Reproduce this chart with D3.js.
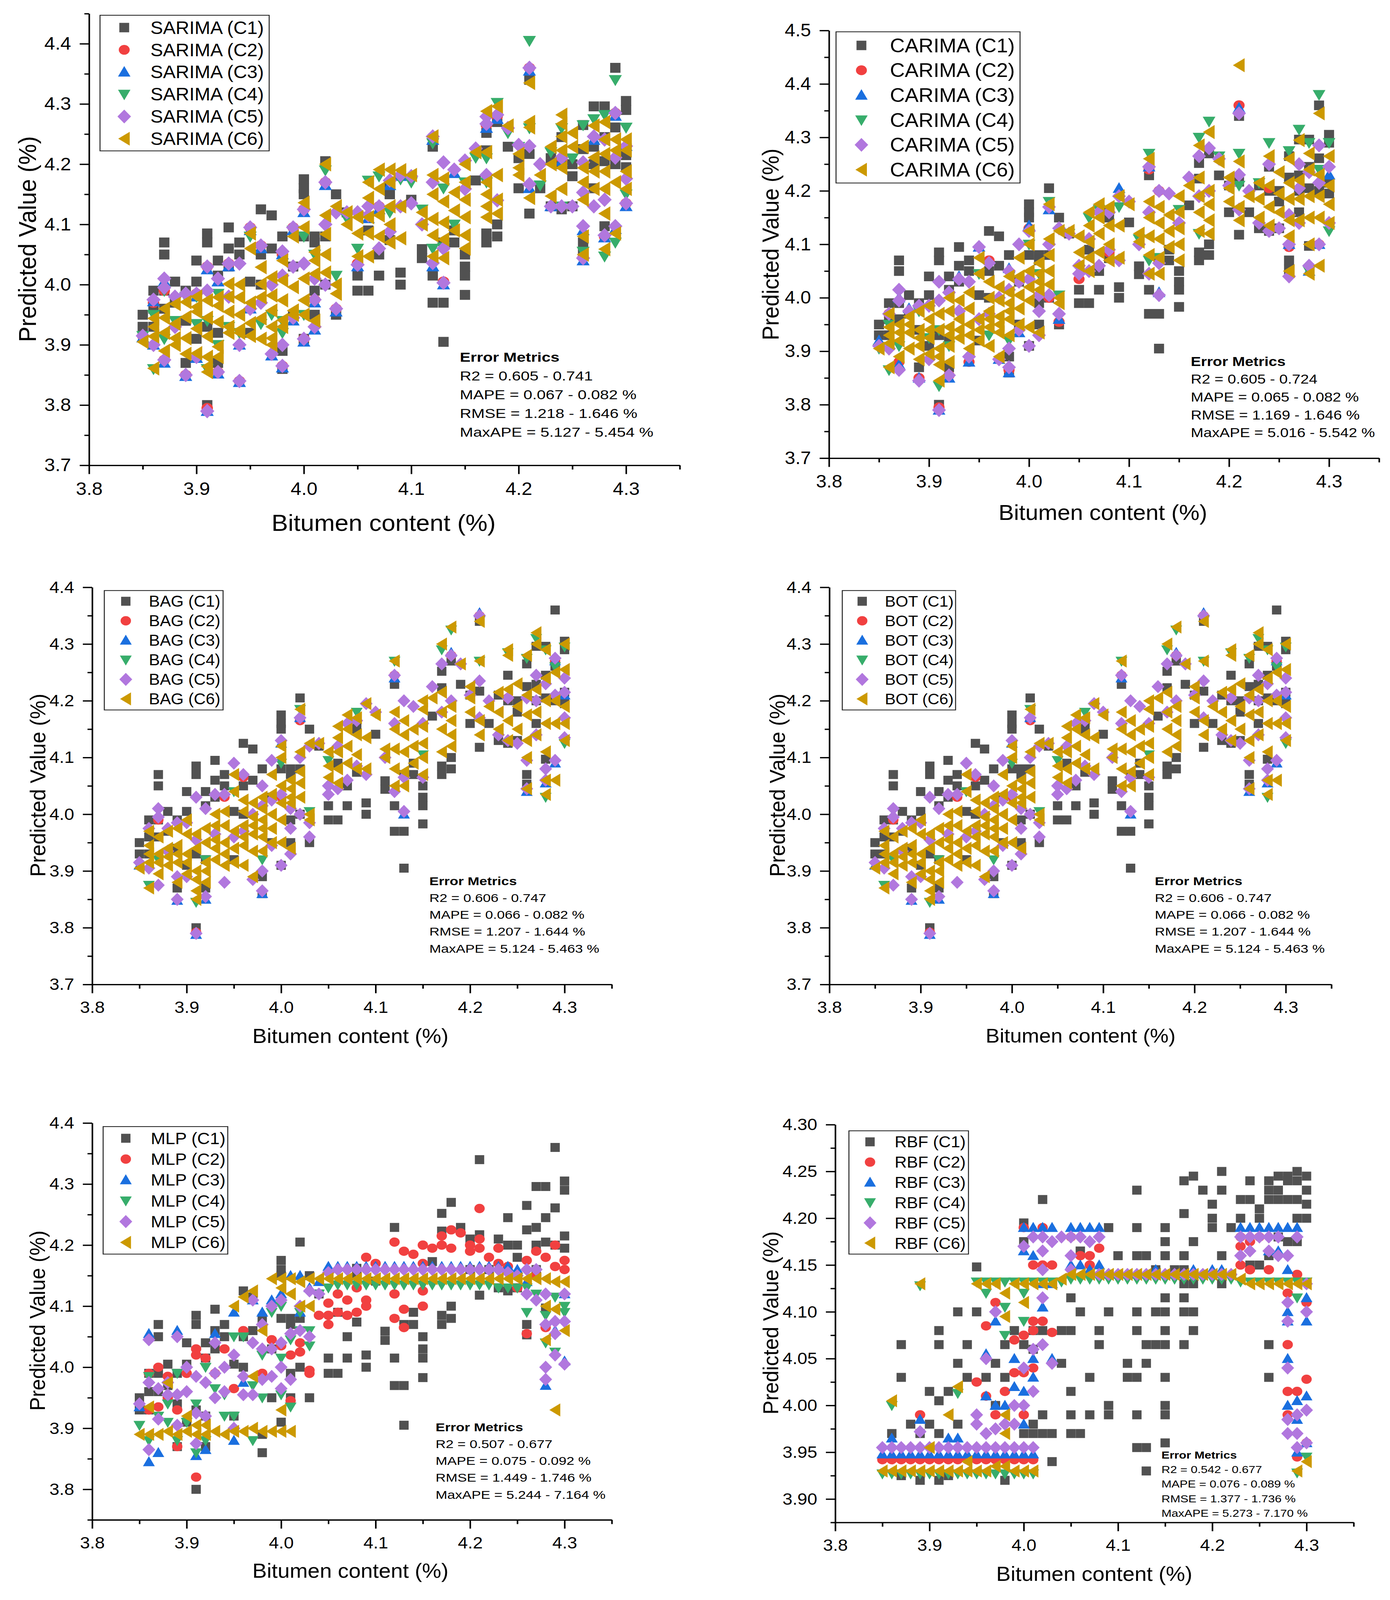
<!DOCTYPE html>
<html>
<head>
<meta charset="utf-8">
<script src="https://cdn.jsdelivr.net/npm/d3@7"></script>
<style>
  html, body { margin: 0; padding: 0; background: #fff; overflow: hidden; }
  svg { display: block; }
  text { font-family: "Liberation Sans", Arial, sans-serif; fill: #000; }
</style>
</head>
<body>
<svg id="fig" viewBox="0 0 3558 4931" preserveAspectRatio="none"></svg>
<script>
// ---------- data (columns: [bitumen content, [predicted values]]) ----------
const xTickValues = [3.8, 3.9, 4.0, 4.1, 4.2, 4.3];
const yTicks37to44 = [3.7, 3.8, 3.9, 4.0, 4.1, 4.2, 4.3, 4.4];
const yTicks37to45 = [3.7, 3.8, 3.9, 4.0, 4.1, 4.2, 4.3, 4.4, 4.5];
const yTicks38to44 = [3.8, 3.9, 4.0, 4.1, 4.2, 4.3, 4.4];
const yTicksRbf = [3.90, 3.95, 4.00, 4.05, 4.10, 4.15, 4.20, 4.25, 4.30];

const seriesColors = ['#515151', '#F14040', '#1A6FDF', '#37AD6B', '#B177DE', '#CC9900'];
const seriesShapes = ['square', 'circle', 'up', 'down', 'diamond', 'left'];
const seriesTags = ['(C1)', '(C2)', '(C3)', '(C4)', '(C5)', '(C6)'];

// C1 points are common to the first five models
const sharedC1 = [
  [3.85,[3.95,3.93]],[3.86,[3.99,3.96,3.93]],[3.87,[4.07,4.05,3.96,3.99]],[3.88,[4.005,3.97]],
  [3.89,[3.87,3.99,3.94]],[3.90,[4.04,4.005,3.91]],[3.91,[4.085,4.07,3.93,3.80]],[3.92,[4.04,4.015,3.92,3.87]],
  [3.93,[4.095,4.06,4.03]],[3.94,[4.07,4.05]],[3.95,[4.005,3.92]],[3.96,[4.125,4.05,4.00]],
  [3.97,[4.115,4.06]],[3.98,[4.08,3.89,3.86]],[3.99,[4.03,3.95]],[4.00,[4.175,4.16,4.15,4.08,3.91]],
  [4.01,[4.08,4.07,3.99,3.95]],[4.02,[4.205,4.08,4.00]],[4.03,[4.15,3.95]],[4.04,[4.12]],
  [4.05,[4.015,3.99]],[4.06,[4.09,3.99]],[4.07,[4.05,4.015]],[4.08,[4.162,4.15,4.074]],[4.09,[4.02,4.00]],
  [4.10,[4.141]],[4.11,[4.059,4.044]],[4.12,[4.229,4.015,3.97]],[4.13,[4.07,3.97,3.905]],[4.14,[4.09,4.07]],
  [4.15,[4.05,4.03,4.015,3.983]],[4.16,[4.173]],[4.17,[4.252,4.223,4.085,4.07]],[4.18,[4.27,4.10,4.08]],
  [4.19,[4.229]],[4.20,[4.21,4.16]],[4.21,[4.34,4.217,4.118]],[4.22,[4.16]],[4.23,[4.21,4.13]],
  [4.24,[4.245,4.20,4.125]],[4.25,[4.20,4.18,4.13]],[4.26,[4.265,4.225,4.07,4.053]],[4.27,[4.296,4.229,4.20,4.16]],
  [4.28,[4.296,4.245,4.205,4.097]],[4.29,[4.36,4.261,4.20]],[4.30,[4.305,4.29,4.215,4.195]]
];

const sarimaC2 = [
  [3.85,[3.915]],[3.86,[3.97]],[3.87,[3.99,3.875]],[3.89,[3.85]],[3.90,[3.985]],[3.91,[3.795,4.03]],
  [3.92,[3.855]],[3.93,[4.035]],[3.94,[3.84]],[3.95,[4.095]],[3.96,[4.065]],[3.98,[3.865,4.05]],
  [3.99,[4.095]],[4.00,[4.125,3.91]],[4.01,[3.975]],[4.02,[4.17]],[4.03,[3.96]],[4.05,[4.035]],
  [4.07,[4.13]],[4.09,[4.18]],[4.12,[4.245]],[4.13,[4.005]],[4.17,[4.265]],[4.18,[4.28]],[4.21,[4.36]],
  [4.24,[4.21]],[4.26,[4.045]],[4.28,[4.08]],[4.29,[4.285]],[4.30,[4.135]]
];
const sarimaC3 = [
  [3.85,[3.912]],[3.86,[3.972,3.90]],[3.87,[4.005,3.87]],[3.89,[3.848]],[3.90,[3.98,3.878]],[3.91,[3.79,4.025]],
  [3.92,[3.852,4.005]],[3.93,[4.03]],[3.94,[3.838,3.90]],[3.95,[4.09,3.96]],[3.96,[4.06]],[3.97,[3.882]],
  [3.98,[3.862,4.05]],[3.99,[4.09,3.94]],[4.00,[4.12,3.905]],[4.01,[3.97,3.925]],[4.02,[4.165]],[4.03,[3.955]],
  [4.05,[4.03]],[4.06,[4.11]],[4.07,[4.125]],[4.08,[4.165]],[4.09,[4.18]],[4.12,[4.24,4.03]],[4.13,[4.0]],
  [4.14,[4.185]],[4.17,[4.26]],[4.18,[4.275]],[4.21,[4.355,4.16]],[4.23,[4.13]],[4.24,[4.205]],
  [4.26,[4.04,4.09]],[4.27,[4.24]],[4.28,[4.078]],[4.29,[4.28,4.092]],[4.30,[4.13,4.23]]
];
const sarimaC4 = [
  [3.85,[3.915]],[3.86,[3.86,3.95]],[3.87,[3.91,3.99]],[3.88,[3.94]],[3.89,[3.98]],[3.90,[3.98,3.935]],
  [3.91,[3.86,3.94]],[3.92,[3.985,3.90]],[3.93,[3.93]],[3.94,[3.92]],[3.95,[4.08]],[3.96,[3.935]],
  [3.97,[3.95]],[3.98,[3.92,3.94]],[3.99,[4.09]],[4.00,[4.08,3.95]],[4.01,[4.05]],[4.02,[4.19]],
  [4.03,[4.015]],[4.04,[4.11]],[4.05,[4.06]],[4.06,[4.173]],[4.07,[4.18]],[4.08,[4.12]],[4.09,[4.175]],
  [4.10,[4.17]],[4.11,[4.125]],[4.12,[4.235,4.06]],[4.13,[4.062,4.16]],[4.14,[4.10]],[4.15,[4.17]],
  [4.16,[4.211]],[4.17,[4.21,4.17]],[4.18,[4.302]],[4.19,[4.252]],[4.20,[4.229]],[4.21,[4.405,4.26]],
  [4.22,[4.165]],[4.23,[4.22]],[4.24,[4.26,4.13]],[4.25,[4.21]],[4.26,[4.055,4.265]],[4.27,[4.275]],
  [4.28,[4.047,4.282]],[4.29,[4.34,4.07]],[4.30,[4.261,4.15]]
];
const sarimaC5 = [
  [3.85,[3.915]],[3.86,[3.975,3.90]],[3.87,[4.01,3.995,3.875]],[3.88,[3.98,3.93]],[3.89,[3.85,3.985]],
  [3.90,[3.985,3.88]],[3.91,[3.79,4.03,3.99]],[3.92,[3.855,4.01]],[3.93,[4.035,3.98]],[3.94,[4.035,3.84,3.90]],
  [3.95,[4.095,3.96]],[3.96,[4.065,3.97]],[3.97,[4.0,3.885]],[3.98,[4.055,4.015,3.865,3.90]],
  [3.99,[4.095,3.945,4.03]],[4.00,[4.125,4.035,3.91]],[4.01,[3.975,3.93,4.01]],[4.02,[4.17,4.10,4.00]],
  [4.03,[3.96,4.12]],[4.04,[4.12]],[4.05,[4.033,4.12]],[4.06,[4.13,4.115]],[4.07,[4.13,4.06]],
  [4.08,[4.173,4.088]],[4.09,[4.182,4.13]],[4.10,[4.135,4.18]],[4.11,[4.10]],[4.12,[4.246,4.036,4.17]],
  [4.13,[4.203,4.003,4.06]],[4.14,[4.191]],[4.15,[4.206,4.159]],[4.16,[4.226]],[4.17,[4.279,4.267,4.182]],
  [4.18,[4.282,4.14]],[4.19,[4.26]],[4.20,[4.232]],[4.21,[4.36,4.23,4.167]],[4.22,[4.2]],[4.23,[4.13]],
  [4.24,[4.211,4.13]],[4.25,[4.13]],[4.26,[4.097,4.044,4.203,4.153]],[4.27,[4.246,4.13]],
  [4.28,[4.241,4.141,4.082]],[4.29,[4.285,4.211,4.097]],[4.30,[4.176,4.135,4.23]]
];
const sarimaC6 = [
  [3.85,[3.905]],[3.86,[3.861,3.914,3.93,3.944]],[3.87,[3.89,3.92,3.945,3.96]],[3.88,[3.90,3.911,3.935,3.968]],
  [3.89,[3.885,3.911,3.946,3.971]],[3.90,[3.886,3.927,3.955,3.963,3.98]],[3.91,[3.855,3.864,3.88,3.914,3.945,3.974]],
  [3.92,[3.88,3.897,3.938,3.965,3.979]],[3.93,[3.92,3.93,3.955,3.98,4.001]],[3.94,[3.92,3.925,3.95,3.979,4.00]],
  [3.95,[3.915,3.936,3.97,4.06,4.085]],[3.96,[3.91,3.944,3.979,4.001,4.029]],[3.97,[3.90,3.911,3.93,3.957,3.982,4.012]],
  [3.98,[3.93,3.941,3.974,4.007,4.04]],[3.99,[3.95,3.957,3.996,4.08]],[4.00,[3.95,3.974,4.01,4.095,4.136]],
  [4.01,[3.94,4.018,4.04,4.054]],[4.02,[4.02,4.05,4.084,4.115,4.20]],[4.03,[3.985,4.00,4.13]],[4.04,[4.10,4.12]],
  [4.05,[4.047,4.085,4.112]],[4.06,[4.047,4.085,4.112,4.144,4.17]],[4.07,[4.08,4.115,4.159,4.191]],
  [4.08,[4.07,4.10,4.13,4.17,4.191]],[4.09,[4.077,4.13,4.19]],[4.10,[4.182]],[4.11,[4.10,4.12]],
  [4.12,[4.047,4.082,4.109,4.15,4.182,4.246]],[4.13,[4.044,4.075,4.103,4.138,4.176]],[4.14,[4.09,4.123,4.153]],
  [4.15,[4.06,4.082,4.112,4.141,4.17,4.20]],[4.16,[4.22]],[4.17,[4.112,4.13,4.15,4.17,4.22,4.288]],
  [4.18,[4.118,4.141,4.182,4.296]],[4.19,[4.264]],[4.20,[4.182,4.194,4.217]],[4.21,[4.144,4.261,4.27,4.335]],
  [4.22,[4.182]],[4.23,[4.147,4.2,4.229]],[4.24,[4.159,4.194,4.223,4.246,4.267,4.282]],[4.25,[4.229,4.252]],
  [4.26,[4.05,4.08,4.141,4.17,4.194,4.229]],[4.27,[4.159,4.188,4.211,4.264]],
  [4.28,[4.059,4.118,4.159,4.188,4.217,4.241,4.27]],[4.29,[4.085,4.17,4.223,4.241]],[4.30,[4.159,4.188,4.223,4.241]]
];

const carimaC2 = [
  [3.86,[3.97]],[3.87,[3.88]],[3.89,[3.85]],[3.91,[3.795]],[3.92,[3.855]],[3.94,[3.88]],[3.96,[4.07]],
  [3.98,[3.865]],[4.00,[4.13]],[4.02,[4.0]],[4.03,[3.955]],[4.05,[4.035]],[4.08,[4.085]],[4.12,[4.24]],
  [4.13,[4.2]],[4.21,[4.36]],[4.24,[4.205]],[4.26,[4.095]],[4.29,[4.10]]
];
const carimaC3 = [
  [3.85,[3.92]],[3.87,[3.875,4.0]],[3.88,[3.98]],[3.89,[3.85]],[3.91,[3.79]],[3.92,[3.85]],[3.93,[4.04]],
  [3.94,[3.88]],[3.95,[4.095]],[3.97,[3.885]],[3.98,[3.86,4.055]],[3.99,[3.935]],[4.00,[4.135]],
  [4.02,[4.165]],[4.03,[3.96]],[4.09,[4.205]],[4.12,[4.245]],[4.13,[4.01]],[4.21,[4.355]],[4.26,[4.10]],
  [4.28,[4.05]],[4.29,[4.10]],[4.30,[4.23]]
];
const carimaC4 = [
  [3.85,[3.905]],[3.86,[3.865,3.95]],[3.87,[3.91]],[3.89,[3.975]],[3.90,[3.925]],[3.91,[3.835,3.94]],
  [3.92,[3.91]],[3.95,[4.045]],[3.96,[3.93]],[3.98,[3.92]],[4.00,[4.10]],[4.01,[4.045]],[4.02,[4.18]],
  [4.03,[4.005]],[4.04,[4.12]],[4.06,[4.15]],[4.07,[4.165]],[4.09,[4.17]],[4.11,[4.11]],[4.12,[4.27,4.07]],
  [4.13,[4.075]],[4.15,[4.165]],[4.17,[4.30,4.12]],[4.18,[4.33]],[4.19,[4.265]],[4.21,[4.27,4.21]],
  [4.23,[4.215]],[4.24,[4.29]],[4.26,[4.275]],[4.27,[4.315]],[4.28,[4.29,4.05]],[4.29,[4.38,4.24]],
  [4.30,[4.29,4.125]]
];
const carimaC5 = [
  [3.85,[3.91]],[3.86,[3.97,3.905]],[3.87,[4.015,3.995,3.865]],[3.88,[3.975]],[3.89,[3.845,3.985]],
  [3.90,[3.985,3.885]],[3.91,[3.79,4.03,3.995]],[3.92,[3.855,4.01]],[3.93,[4.035,3.975]],[3.94,[4.03,3.89]],
  [3.95,[4.095,3.96]],[3.96,[4.065,3.97]],[3.97,[4.0,3.885]],[3.98,[4.05,4.015,3.87,3.905]],
  [3.99,[4.10,3.94,4.03]],[4.00,[4.125,4.035,3.91]],[4.01,[3.975,3.93,4.005]],[4.02,[4.17,4.10,4.005]],
  [4.03,[3.97,4.13]],[4.04,[4.12]],[4.05,[4.06,4.045]],[4.06,[4.11,4.05]],[4.07,[4.16,4.06]],
  [4.08,[4.16,4.09]],[4.09,[4.19,4.07]],[4.10,[4.18]],[4.11,[4.10]],[4.12,[4.245,4.045,4.16]],
  [4.13,[4.005,4.2,4.065]],[4.14,[4.195]],[4.15,[4.14]],[4.16,[4.225]],[4.17,[4.265,4.19]],
  [4.18,[4.28,4.20]],[4.19,[4.26]],[4.20,[4.21]],[4.21,[4.345,4.23,4.165]],[4.22,[4.2]],[4.23,[4.14]],
  [4.24,[4.25,4.125]],[4.25,[4.13]],[4.26,[4.04,4.10,4.155]],[4.27,[4.25,4.205,4.14]],[4.28,[4.06,4.235]],
  [4.29,[4.285,4.215,4.10]],[4.30,[4.14,4.245]]
];
const carimaC6 = [
  [3.85,[3.905]],[3.86,[3.87,3.915,3.93,3.945,3.97]],[3.87,[3.89,3.92,3.935,3.95]],[3.88,[3.905,3.935,3.95,3.965]],
  [3.89,[3.885,3.91,3.925,3.94,3.975]],[3.90,[3.895,3.925,3.94,3.96,3.985]],[3.91,[3.845,3.875,3.89,3.905,3.94,3.97]],
  [3.92,[3.88,3.91,3.93,3.945,3.975,4.0]],[3.93,[3.925,3.94,3.96,3.995]],[3.94,[3.905,3.93,3.95,3.98,4.01]],
  [3.95,[3.92,3.94,3.96,4.045,4.075]],[3.96,[3.91,3.945,3.96,3.975,4.0,4.03]],[3.97,[3.89,3.935,3.95,3.965,3.995,4.02]],
  [3.98,[3.93,3.96,3.975,3.99,4.01,4.04]],[3.99,[3.95,3.98,4.005,4.04,4.075]],[4.00,[3.945,3.995,4.02,4.05,4.10,4.125]],
  [4.01,[3.935,4.015,4.03,4.045,4.065]],[4.02,[4.025,4.05,4.08,4.11,4.175]],[4.03,[3.99,4.0,4.125]],
  [4.04,[4.125]],[4.05,[4.06,4.085,4.115]],[4.06,[4.05,4.075,4.105,4.135,4.16]],[4.07,[4.085,4.12,4.15,4.175]],
  [4.08,[4.07,4.10,4.135,4.17]],[4.09,[4.075,4.135,4.19]],[4.10,[4.175]],[4.11,[4.105,4.12]],
  [4.12,[4.045,4.08,4.115,4.15,4.18,4.26]],[4.13,[4.045,4.075,4.11,4.14,4.17]],[4.14,[4.095,4.125,4.155]],
  [4.15,[4.07,4.10,4.13,4.16,4.19]],[4.16,[4.21]],[4.17,[4.125,4.16,4.19,4.225,4.285]],
  [4.18,[4.12,4.145,4.175,4.20,4.31]],[4.19,[4.255]],[4.20,[4.18,4.205,4.225]],[4.21,[4.145,4.17,4.255,4.435]],
  [4.22,[4.19]],[4.23,[4.15,4.185,4.215]],[4.24,[4.135,4.17,4.21,4.265]],[4.25,[4.16,4.195,4.235]],
  [4.26,[4.05,4.115,4.145,4.185,4.215,4.26]],[4.27,[4.145,4.185,4.22,4.295]],
  [4.28,[4.045,4.10,4.15,4.19,4.24,4.27]],[4.29,[4.06,4.15,4.19,4.23,4.345]],[4.30,[4.14,4.175,4.21,4.265]]
];

const bagC2 = [
  [3.87,[3.99]],[3.91,[3.792]],[3.94,[4.03]],[3.96,[4.065]],[4.00,[4.03]],[4.02,[4.165]],[4.12,[4.245]],
  [4.18,[4.28]],[4.21,[4.35]],[4.24,[4.205]],[4.29,[4.27]]
];
const bagC3 = [
  [3.85,[3.91]],[3.89,[3.848]],[3.91,[3.788]],[3.92,[3.85]],[3.98,[3.86]],[4.00,[4.125]],[4.02,[4.17]],
  [4.12,[4.24]],[4.13,[4.0]],[4.18,[4.285]],[4.21,[4.355]],[4.26,[4.04]],[4.28,[4.055]],[4.29,[4.27,4.09]],
  [4.30,[4.21]]
];
const bagC4 = [
  [3.86,[3.875]],[3.87,[3.92]],[3.91,[3.845]],[3.92,[3.92]],[3.95,[4.04]],[3.98,[3.92]],[4.00,[4.09]],
  [4.02,[4.185]],[4.03,[4.005]],[4.05,[4.095]],[4.08,[4.18]],[4.12,[4.27]],[4.15,[4.105]],[4.17,[4.29]],
  [4.18,[4.325]],[4.21,[4.27]],[4.24,[4.285]],[4.26,[4.275]],[4.27,[4.31]],[4.28,[4.03,4.29]],
  [4.29,[4.26]],[4.30,[4.295,4.125]]
];
const bagC5 = [
  [3.85,[3.915]],[3.86,[3.975,3.905]],[3.87,[4.01,3.995,3.875]],[3.88,[3.975,3.935]],[3.89,[3.85,3.985,3.89]],
  [3.90,[3.985,3.89]],[3.91,[3.79,4.03,3.955]],[3.92,[3.855,4.01]],[3.93,[4.035,3.965]],[3.94,[4.035,3.88]],
  [3.95,[4.09,3.96]],[3.96,[4.07,3.97]],[3.97,[4.0,3.885]],[3.98,[4.05,4.015,3.865,3.90]],
  [3.99,[4.095,3.945,4.025]],[4.00,[4.13,4.035,3.91]],[4.01,[3.975,3.93,4.01]],[4.02,[4.17,4.10,4.0]],
  [4.03,[3.96,4.12,3.985]],[4.04,[4.125]],[4.05,[4.035,4.05]],[4.06,[4.045,4.12]],[4.07,[4.16,4.06]],
  [4.08,[4.165,4.085]],[4.09,[4.195,4.07]],[4.10,[4.18]],[4.11,[4.10]],[4.12,[4.245,4.04,4.16]],
  [4.13,[4.005,4.20,4.065]],[4.14,[4.19]],[4.15,[4.16,4.065]],[4.16,[4.225]],[4.17,[4.265,4.18]],
  [4.18,[4.28,4.20]],[4.19,[4.265]],[4.20,[4.21]],[4.21,[4.35,4.235,4.17]],[4.22,[4.2]],[4.23,[4.14]],
  [4.24,[4.205,4.13]],[4.25,[4.125]],[4.26,[4.045,4.095,4.205]],[4.27,[4.245,4.20,4.14]],
  [4.28,[4.06,4.08,4.23]],[4.29,[4.275,4.21,4.095]],[4.30,[4.135,4.17,4.24,4.215]]
];
const bagC6 = [
  [3.85,[3.905]],[3.86,[3.87,3.915,3.93,3.945,3.97]],[3.87,[3.895,3.915,3.93,3.96]],[3.88,[3.91,3.925,3.94,3.97]],
  [3.89,[3.88,3.915,3.93,3.945,3.975]],[3.90,[3.895,3.915,3.93,3.965,3.99]],[3.91,[3.85,3.865,3.885,3.90,3.94,3.965]],
  [3.92,[3.88,3.90,3.915,3.95,3.975]],[3.93,[3.92,3.94,3.955,3.98,4.0]],[3.94,[3.91,3.93,3.95,3.98,4.005]],
  [3.95,[3.915,3.94,3.97,4.04,4.07]],[3.96,[3.91,3.945,3.96,3.98,4.005,4.025]],[3.97,[3.89,3.935,3.965,3.98,3.995,4.02]],
  [3.98,[3.935,3.96,3.975,3.99,4.01,4.03]],[3.99,[3.95,3.975,4.0,4.035,4.07]],[4.00,[3.95,3.99,4.02,4.05,4.10,4.12]],
  [4.01,[3.94,4.02,4.03,4.045,4.06]],[4.02,[4.03,4.055,4.075,4.11,4.185]],[4.03,[3.99,4.0,4.125]],[4.04,[4.125]],
  [4.05,[4.065,4.085,4.11]],[4.06,[4.055,4.08,4.11,4.135,4.155]],[4.07,[4.09,4.12,4.15,4.175]],
  [4.08,[4.08,4.105,4.14,4.17]],[4.09,[4.08,4.135,4.195]],[4.10,[4.175]],[4.11,[4.10,4.115]],
  [4.12,[4.05,4.08,4.115,4.15,4.18,4.27]],[4.13,[4.05,4.075,4.11,4.14,4.165]],[4.14,[4.09,4.12,4.15]],
  [4.15,[4.07,4.10,4.125,4.155,4.185,4.20]],[4.16,[4.205]],[4.17,[4.11,4.15,4.18,4.215,4.30]],
  [4.18,[4.12,4.14,4.165,4.19,4.33]],[4.19,[4.265]],[4.20,[4.18,4.205,4.225]],[4.21,[4.14,4.165,4.27,4.34]],
  [4.22,[4.19]],[4.23,[4.15,4.18,4.215]],[4.24,[4.13,4.165,4.22,4.28,4.29]],[4.25,[4.15,4.19,4.23]],
  [4.26,[4.045,4.10,4.13,4.175,4.21,4.28]],[4.27,[4.14,4.18,4.22,4.30,4.32]],
  [4.28,[4.035,4.06,4.11,4.16,4.20,4.24,4.29]],[4.29,[4.06,4.16,4.20,4.25]],[4.30,[4.13,4.16,4.19,4.255,4.30]]
];

const mlpC2 = [
  [3.86,[3.93,3.99]],[3.87,[4.00,3.935]],[3.88,[3.95,3.985]],[3.89,[3.87,3.93]],[3.90,[3.99]],[3.91,[3.82,4.03,4.02]],
  [3.92,[4.015]],[3.93,[3.99]],[3.94,[4.03]],[3.95,[3.965]],[3.96,[4.06]],[3.98,[3.99]],[3.99,[4.045]],
  [4.00,[4.035]],[4.01,[4.02,3.945]],[4.02,[4.025,4.04]],[4.03,[3.995,3.99]],[4.04,[4.085]],
  [4.05,[4.085,4.105,4.07]],[4.06,[4.09,4.12]],[4.07,[4.085,4.11]],[4.08,[4.09,4.13]],[4.09,[4.18,4.10,4.11]],
  [4.10,[4.17]],[4.12,[4.205,4.08,4.12]],[4.13,[4.19,4.095,4.065]],[4.14,[4.185]],[4.15,[4.20,4.17,4.10,4.125]],
  [4.16,[4.195]],[4.17,[4.215,4.20]],[4.18,[4.225,4.195]],[4.19,[4.22]],[4.20,[4.20,4.19]],
  [4.21,[4.26,4.21,4.195]],[4.22,[4.18]],[4.23,[4.195,4.17]],[4.24,[4.165]],[4.25,[4.13]],
  [4.26,[4.175,4.055]],[4.27,[4.19,4.15]],[4.28,[4.18,4.065]],[4.29,[4.20,4.165]],[4.30,[4.175,4.16]]
];
const mlpC3 = [
  [3.85,[3.935]],[3.86,[4.055,3.845]],[3.87,[3.86]],[3.89,[4.06]],[3.91,[3.855]],[3.92,[3.865]],[3.93,[4.055]],
  [3.95,[3.88,4.09]],[3.96,[3.975]],[3.97,[4.11]],[3.98,[4.09]],[3.99,[4.11]],[4.00,[4.12]],[4.01,[4.15]],
  [4.02,[4.15,4.09]],[4.03,[4.13]],[4.04,[4.14]],[4.05,[4.165]],[4.06,[4.165]],[4.07,[4.165]],[4.08,[4.165]],
  [4.09,[4.165]],[4.10,[4.165]],[4.11,[4.165]],[4.12,[4.165]],[4.13,[4.165]],[4.14,[4.165]],[4.15,[4.165]],
  [4.16,[4.165]],[4.17,[4.165]],[4.18,[4.165]],[4.19,[4.165]],[4.20,[4.165]],[4.21,[4.165]],[4.22,[4.165]],
  [4.23,[4.165]],[4.24,[4.165]],[4.25,[4.16]],[4.26,[4.14]],[4.28,[3.97]],[4.29,[4.06]],[4.30,[4.01,4.12]]
];
const mlpC4 = [
  [3.85,[3.905]],[3.86,[3.985,3.88]],[3.87,[3.92]],[3.88,[3.94,3.91]],[3.89,[3.99,3.88]],[3.90,[3.91]],
  [3.91,[3.94,3.86]],[3.92,[4.0,3.88]],[3.93,[3.965]],[3.94,[3.955,3.92]],[3.95,[4.05,3.92]],[3.96,[4.05]],
  [3.97,[3.88,3.97]],[3.98,[4.02,3.95]],[3.99,[4.09]],[4.00,[4.015,3.955,4.10]],[4.01,[3.935,4.045]],
  [4.02,[4.09,4.06]],[4.03,[4.035,4.06]],[4.04,[4.12]],[4.05,[4.13]],[4.06,[4.135]],[4.07,[4.135]],
  [4.08,[4.135]],[4.09,[4.135]],[4.10,[4.135]],[4.11,[4.135]],[4.12,[4.135]],[4.13,[4.135]],[4.14,[4.135]],
  [4.15,[4.135]],[4.16,[4.135]],[4.17,[4.135]],[4.18,[4.135]],[4.19,[4.135]],[4.20,[4.135]],[4.21,[4.135]],
  [4.22,[4.135]],[4.23,[4.13]],[4.24,[4.13]],[4.25,[4.13]],[4.26,[4.09,4.13]],[4.27,[4.12]],
  [4.28,[4.04,4.085]],[4.29,[4.025,4.115]],[4.30,[4.10,4.09]]
];
const mlpC5 = [
  [3.85,[3.94]],[3.86,[4.045,3.975,3.865]],[3.87,[3.965,3.915]],[3.88,[3.975,3.955]],[3.89,[4.05,3.955,3.905]],
  [3.90,[4.0,3.96]],[3.91,[3.985,3.925,3.875]],[3.92,[3.975,3.92]],[3.93,[4.04,3.99,3.95]],[3.94,[4.00,3.96]],
  [3.95,[4.02,3.90]],[3.96,[3.985,3.955]],[3.97,[4.11,4.04,3.955]],[3.98,[4.07,4.03,3.98]],
  [3.99,[4.10,4.03,3.985]],[4.00,[4.11,4.04,4.00,3.965]],[4.01,[4.055,3.98]],[4.02,[4.06,4.10]],
  [4.03,[4.125,4.05]],[4.04,[4.12]],[4.05,[4.155]],[4.06,[4.16]],[4.07,[4.16]],[4.08,[4.16]],[4.09,[4.16]],
  [4.10,[4.16]],[4.11,[4.16]],[4.12,[4.16]],[4.13,[4.16]],[4.14,[4.16]],[4.15,[4.16]],[4.16,[4.16]],
  [4.17,[4.16]],[4.18,[4.16]],[4.19,[4.16]],[4.20,[4.16]],[4.21,[4.16]],[4.22,[4.16]],[4.23,[4.16]],
  [4.24,[4.155]],[4.25,[4.15]],[4.26,[4.16,4.12]],[4.27,[4.16,4.11]],[4.28,[4.07,4.00,3.98,4.12]],
  [4.29,[4.055,4.02,4.075]],[4.30,[4.075,4.005,4.12]]
];
const mlpC6 = [
  [3.85,[3.89]],[3.86,[3.89,3.935]],[3.87,[3.89]],[3.88,[3.895,3.975]],[3.89,[3.89]],[3.90,[3.895,3.92]],
  [3.91,[3.89,3.905]],[3.92,[3.89,3.905]],[3.93,[3.895]],[3.94,[3.89]],[3.95,[3.895,4.10]],
  [3.96,[3.895,4.115]],[3.97,[3.90,3.985,4.125]],[3.98,[3.895,4.06]],[3.99,[3.895,4.145]],
  [4.00,[3.895,3.93,4.13,4.145]],[4.01,[3.895,4.12,4.145]],[4.02,[4.10,4.14]],[4.03,[4.10,4.145]],
  [4.04,[4.145]],[4.05,[4.145]],[4.06,[4.145]],[4.07,[4.145]],[4.08,[4.145]],[4.09,[4.145]],[4.10,[4.145]],
  [4.11,[4.145]],[4.12,[4.145]],[4.13,[4.145]],[4.14,[4.145]],[4.15,[4.145]],[4.16,[4.145]],[4.17,[4.145]],
  [4.18,[4.145]],[4.19,[4.145]],[4.20,[4.145]],[4.21,[4.145]],[4.22,[4.145]],[4.23,[4.145]],[4.24,[4.145]],
  [4.25,[4.145]],[4.26,[4.145]],[4.27,[4.145]],[4.28,[4.045,4.10,4.145]],[4.29,[3.93,4.095,4.14]],
  [4.30,[4.06,4.14]]
];

const rbfC1 = [
  [3.86,[3.97]],[3.87,[4.065,4.03,3.925]],[3.88,[3.98]],[3.89,[3.97,3.92]],[3.90,[4.015,3.98]],
  [3.91,[4.08,4.065,4.005,3.97,3.92]],[3.92,[4.015,3.925]],[3.93,[4.10,4.045,3.98]],[3.94,[4.065,4.03]],
  [3.95,[4.148,4.10]],[3.96,[4.03]],[3.97,[4.045,4.00]],[3.98,[4.065,4.03,3.92]],[3.99,[4.08]],
  [4.00,[4.195,4.175,4.065,3.97]],[4.01,[4.08,4.06,3.98,3.97]],[4.02,[4.22,4.08,3.97,3.99]],[4.03,[3.94,3.97]],
  [4.04,[4.08,4.045]],[4.05,[4.115,4.08,4.015,3.99,3.97]],[4.06,[4.165,4.10,3.97]],[4.07,[4.03,3.99]],
  [4.08,[4.08,4.065]],[4.09,[4.19,4.10,4.00,3.99]],[4.10,[4.16]],[4.11,[4.045,4.03]],
  [4.12,[4.23,4.19,4.16,4.10,4.08,4.03,3.99,3.955]],[4.13,[4.16,4.065,4.045,3.955,3.93]],[4.14,[4.145,4.10,4.065]],
  [4.15,[4.19,4.175,4.16,4.115,4.10,4.08,4.065,4.03,4.00,3.99,3.96]],[4.16,[4.145]],
  [4.17,[4.24,4.205,4.16,4.145,4.13,4.115,4.10,4.065]],[4.18,[4.245,4.175,4.13,4.10,4.08]],[4.19,[4.23]],
  [4.20,[4.215,4.20,4.19]],[4.21,[4.25,4.23,4.16,4.13]],[4.22,[4.19]],[4.23,[4.22,4.20]],[4.24,[4.24,4.22,4.15]],
  [4.25,[4.21,4.20,4.15]],[4.26,[4.24,4.23,4.22,4.16,4.065,4.03]],[4.27,[4.245,4.23,4.22,4.18]],
  [4.28,[4.245,4.24,4.22,4.175]],[4.29,[4.25,4.24,4.22,4.20,4.175]],[4.30,[4.245,4.23,4.215,4.20]]
];
const rbfC2 = [
  [3.85,[3.942]],[3.86,[3.942]],[3.87,[3.942]],[3.88,[3.942]],[3.89,[3.942,3.99]],[3.90,[3.942]],[3.91,[3.942]],
  [3.92,[3.942]],[3.93,[3.942]],[3.94,[3.942]],[3.95,[3.942,4.025]],[3.96,[3.942,4.085,4.01]],
  [3.97,[3.942,4.11,3.99]],[3.98,[3.942,4.015]],[3.99,[3.942,4.07,4.035]],[4.00,[3.942,4.075,4.035,3.99,4.19]],
  [4.01,[3.942,4.15,4.09,4.08,4.04]],[4.02,[4.15,4.19,4.09]],[4.03,[4.15,4.078]],[4.05,[4.18]],[4.06,[4.16]],
  [4.07,[4.16,4.15]],[4.08,[4.168]],[4.23,[4.17,4.15,4.18]],[4.24,[4.145,4.175]],[4.25,[4.18]],[4.26,[4.145]],
  [4.28,[4.065,4.015,3.99,4.12]],[4.29,[4.015,3.945,4.14]],[4.30,[4.028,4.11,3.96]]
];
const rbfC3 = [
  [3.85,[3.948]],[3.86,[3.948,3.965]],[3.87,[3.948]],[3.88,[3.948]],[3.89,[3.948,3.985]],[3.90,[3.948]],
  [3.91,[3.948]],[3.92,[3.948,3.965]],[3.93,[3.948,3.965]],[3.94,[3.948]],[3.95,[3.948]],[3.96,[3.948,4.055,4.01]],
  [3.97,[3.948,4.09,4.00]],[3.98,[3.948,4.00]],[3.99,[3.948,4.02,4.05]],[4.00,[3.948,4.015,3.98,4.165,4.19]],
  [4.01,[3.948,4.03,4.05,4.16,4.19]],[4.02,[4.105,4.13,4.19]],[4.03,[4.05,4.13,4.19]],[4.05,[4.15,4.19]],
  [4.06,[4.15,4.19]],[4.07,[4.145,4.19]],[4.08,[4.15,4.19]],[4.09,[4.14]],[4.10,[4.14]],[4.12,[4.14]],
  [4.14,[4.145]],[4.16,[4.14]],[4.18,[4.145]],[4.20,[4.145]],[4.21,[4.145]],[4.23,[4.19]],[4.24,[4.19]],
  [4.25,[4.19]],[4.26,[4.19,4.165]],[4.27,[4.19,4.165]],[4.28,[4.19,4.145,4.10,4.09,4.05,4.00]],
  [4.29,[4.19,4.005,3.985,3.95]],[4.30,[4.01,4.09,4.115,3.96]]
];
const rbfC4 = [
  [3.85,[3.927]],[3.86,[3.927,4.0]],[3.87,[3.927]],[3.88,[3.927]],[3.89,[3.927,4.128]],[3.90,[3.927]],
  [3.91,[3.927]],[3.92,[3.927]],[3.93,[3.927,4.013]],[3.94,[3.927]],[3.95,[3.927,4.132]],[3.96,[3.927,4.12,4.132]],
  [3.97,[3.927,4.132]],[3.98,[3.927,4.105,4.075,4.132]],[3.99,[3.927,4.132]],[4.00,[3.927,4.12,4.09,4.132]],
  [4.01,[3.927,4.132]],[4.02,[4.132]],[4.03,[4.132]],[4.04,[4.132]],[4.05,[4.135]],[4.06,[4.135]],[4.07,[4.135]],
  [4.08,[4.135]],[4.09,[4.135]],[4.10,[4.135]],[4.11,[4.135]],[4.12,[4.135]],[4.13,[4.135]],[4.14,[4.135]],
  [4.15,[4.135]],[4.16,[4.135]],[4.17,[4.135]],[4.18,[4.135]],[4.19,[4.135]],[4.20,[4.135]],[4.21,[4.135]],
  [4.22,[4.135]],[4.23,[4.132]],[4.24,[4.132]],[4.25,[4.132]],[4.26,[4.132]],[4.27,[4.132]],[4.28,[4.132]],
  [4.29,[4.132,4.115,3.928]],[4.30,[4.132,3.945]]
];
const rbfC5 = [
  [3.85,[3.955]],[3.86,[3.955]],[3.87,[3.955]],[3.88,[3.955]],[3.89,[3.955,3.972]],[3.90,[3.955]],[3.91,[3.955]],
  [3.92,[3.955]],[3.93,[3.955]],[3.94,[3.955]],[3.95,[3.955,3.98,3.99]],[3.96,[3.955,3.97,4.05]],
  [3.97,[3.955,3.975,4.10]],[3.98,[3.955,3.98]],[3.99,[3.955,3.98,4.0]],[4.00,[3.955,4.0,4.04,4.17]],
  [4.01,[3.955,4.015,4.06,4.18]],[4.02,[4.065,4.115,4.145,4.165,4.18]],[4.03,[4.045,4.175]],[4.04,[4.18]],
  [4.05,[4.145,4.16,4.18]],[4.06,[4.18]],[4.07,[4.175]],[4.08,[4.18,4.14]],[4.09,[4.14]],[4.10,[4.14]],
  [4.11,[4.14]],[4.12,[4.14]],[4.13,[4.14]],[4.14,[4.14]],[4.15,[4.14]],[4.16,[4.14]],[4.17,[4.14]],
  [4.18,[4.14]],[4.19,[4.14]],[4.20,[4.14]],[4.21,[4.14]],[4.22,[4.14]],[4.23,[4.16,4.18]],[4.24,[4.165,4.18]],
  [4.25,[4.18]],[4.26,[4.165,4.18]],[4.27,[4.16,4.18]],[4.28,[4.11,4.09,4.04,3.985,3.97,4.16]],
  [4.29,[3.97,3.99,3.955,4.18]],[4.30,[3.995,3.96,4.10,4.13]]
];
const rbfC6 = [
  [3.85,[3.93]],[3.86,[3.93,4.005]],[3.87,[3.93]],[3.88,[3.93]],[3.89,[3.93,4.13]],[3.90,[3.93,3.955]],
  [3.91,[3.93]],[3.92,[3.93,3.99]],[3.93,[3.93,4.02]],[3.94,[3.93,3.94]],[3.95,[3.93,4.13]],[3.96,[3.93,4.13]],
  [3.97,[3.935,4.13]],[3.98,[3.935,3.97,3.99,4.095,4.12]],[3.99,[3.93,4.13]],[4.00,[3.93,4.11,4.13]],
  [4.01,[3.93,4.13]],[4.02,[4.13]],[4.03,[4.13]],[4.04,[4.135]],[4.05,[4.14]],[4.06,[4.14]],[4.07,[4.14]],
  [4.08,[4.14]],[4.09,[4.14]],[4.10,[4.14]],[4.11,[4.14]],[4.12,[4.14]],[4.13,[4.14]],[4.14,[4.14]],
  [4.15,[4.14]],[4.16,[4.14]],[4.17,[4.14]],[4.18,[4.14]],[4.19,[4.14]],[4.20,[4.14]],[4.21,[4.14]],
  [4.22,[4.14]],[4.23,[4.135]],[4.24,[4.13]],[4.25,[4.13]],[4.26,[4.13]],[4.27,[4.13]],[4.28,[4.13]],
  [4.29,[4.13,3.93]],[4.30,[4.13,3.94]]
];

const sarimaMetrics = ['R2 = 0.605 - 0.741', 'MAPE = 0.067 - 0.082 %', 'RMSE = 1.218 - 1.646 %', 'MaxAPE = 5.127 - 5.454 %'];
const carimaMetrics = ['R2 = 0.605 - 0.724', 'MAPE = 0.065 - 0.082 %', 'RMSE = 1.169 - 1.646 %', 'MaxAPE = 5.016 - 5.542 %'];
const bagMetrics = ['R2 = 0.606 - 0.747', 'MAPE = 0.066 - 0.082 %', 'RMSE = 1.207 - 1.644 %', 'MaxAPE = 5.124 - 5.463 %'];
const botMetrics = ['R2 = 0.606 - 0.747', 'MAPE = 0.066 - 0.082 %', 'RMSE = 1.207 - 1.644 %', 'MaxAPE = 5.124 - 5.463 %'];
const mlpMetrics = ['R2 = 0.507 - 0.677', 'MAPE = 0.075 - 0.092 %', 'RMSE = 1.449 - 1.746 %', 'MaxAPE = 5.244 - 7.164 %'];
const rbfMetrics = ['R2 = 0.542 - 0.677', 'MAPE = 0.076 - 0.089 %', 'RMSE = 1.377 - 1.736 %', 'MaxAPE = 5.273 - 7.170 %'];

// ---------- panels (layout in figure pixels) ----------
const W = 3558, H = 4931;
const SX = 0.88; // the figure's text is horizontally condensed

const panels = [
  { model: 'SARIMA', series: [sharedC1, sarimaC2, sarimaC3, sarimaC4, sarimaC5, sarimaC6], metrics: sarimaMetrics,
    xr: [228, 1740], yd: [3.7, 4.45], yr: [1434, 42], yTicks: yTicks37to44, yFmt: '.1f', yStep: 0.1,
    tickFont: 56, mk: 1.05,
    legend: { x: 256, y: 47, w: 433, h: 418, mx: 318, tx: 385, y0: 85, step: 68.5, font: 55 },
    met: { x: 1177, y0: 1100, step: 58, font: 41 },
    xTitle: { x: 982, y: 1611, font: 72 }, yTitle: { x: 70, y: 737, font: 72 } },
  { model: 'CARIMA', series: [sharedC1, carimaC2, carimaC3, carimaC4, carimaC5, carimaC6], metrics: carimaMetrics,
    xr: [2122, 3530], yd: [3.7, 4.5], yr: [1412, 94], yTicks: yTicks37to45, yFmt: '.1f', yStep: 0.1,
    tickFont: 55, mk: 1.02,
    legend: { x: 2140, y: 98, w: 471, h: 466, mx: 2205, tx: 2278, y0: 140, step: 76.6, font: 60 },
    met: { x: 3048, y0: 1114, step: 55, font: 39 },
    xTitle: { x: 2823, y: 1579, font: 67 }, yTitle: { x: 1972, y: 753, font: 67 } },
  { model: 'BAG', series: [sharedC1, bagC2, bagC3, bagC4, bagC5, bagC6], metrics: bagMetrics,
    xr: [236, 1566], yd: [3.7, 4.4], yr: [3034, 1810], yTicks: yTicks37to44, yFmt: '.1f', yStep: 0.1,
    tickFont: 52, mk: 0.95,
    legend: { x: 267, y: 1820, w: 304, h: 368, mx: 322, tx: 381, y0: 1853, step: 60.2, font: 48 },
    met: { x: 1099, y0: 2715, step: 52, font: 36 },
    xTitle: { x: 897, y: 3192, font: 63 }, yTitle: { x: 96, y: 2420, font: 64 } },
  { model: 'BOT', series: [sharedC1, bagC2, bagC3, bagC4, bagC5, bagC6], metrics: botMetrics,
    xr: [2123, 3408], yd: [3.7, 4.4], yr: [3034, 1810], yTicks: yTicks37to44, yFmt: '.1f', yStep: 0.1,
    tickFont: 52, mk: 0.95,
    legend: { x: 2156, y: 1820, w: 290, h: 368, mx: 2207, tx: 2265, y0: 1853, step: 60.2, font: 47 },
    met: { x: 2956, y0: 2715, step: 52, font: 36 },
    xTitle: { x: 2766, y: 3192, font: 61 }, yTitle: { x: 1989, y: 2420, font: 64 } },
  { model: 'MLP', series: [sharedC1, mlpC2, mlpC3, mlpC4, mlpC5, mlpC6], metrics: mlpMetrics,
    xr: [236, 1566], yd: [3.75, 4.4], yr: [4684, 3461], yTicks: yTicks38to44, yFmt: '.1f', yStep: 0.1,
    tickFont: 52, mk: 0.95,
    legend: { x: 264, y: 3472, w: 319, h: 393, mx: 322, tx: 386, y0: 3508, step: 64.2, font: 51 },
    met: { x: 1115, y0: 4398, step: 52, font: 36 },
    xTitle: { x: 897, y: 4840, font: 63 }, yTitle: { x: 96, y: 4070, font: 63 } },
  { model: 'RBF', series: [rbfC1, rbfC2, rbfC3, rbfC4, rbfC5, rbfC6], metrics: rbfMetrics,
    xr: [2138, 3465], yd: [3.875, 4.30], yr: [4692, 3466], yTicks: yTicksRbf, yFmt: '.2f', yStep: 0.05,
    tickFont: 52, mk: 0.95,
    legend: { x: 2173, y: 3485, w: 306, h: 380, mx: 2227, tx: 2290, y0: 3519, step: 62.4, font: 49 },
    met: { x: 2973, y0: 4484, step: 45, font: 31 },
    xTitle: { x: 2801, y: 4850, font: 63 }, yTitle: { x: 1972, y: 4077, font: 64 } }
];

// ---------- drawing ----------
// the viewport can be shorter than the figure, so the whole figure is fitted into it
const vw = window.innerWidth || W, vh = window.innerHeight || H;
const svg = d3.select('#fig').attr('width', vw).attr('height', vh);
svg.append('rect').attr('width', W).attr('height', H).attr('fill', '#fff');

function markerPath(kind, s) {
  switch (kind) {
    case 'square': return `M${-0.45 * s},${-0.52 * s}H${0.45 * s}V${0.52 * s}H${-0.45 * s}Z`;
    case 'circle': {
      const rx = 0.5 * s, ry = 0.54 * s;
      return `M${-rx},0a${rx},${ry} 0 1,0 ${2 * rx},0a${rx},${ry} 0 1,0 ${-2 * rx},0Z`;
    }
    case 'up': return `M0,${-0.66 * s}L${0.57 * s},${0.5 * s}L${-0.57 * s},${0.5 * s}Z`;
    case 'down': return `M0,${0.66 * s}L${0.57 * s},${-0.5 * s}L${-0.57 * s},${-0.5 * s}Z`;
    case 'diamond': return `M0,${-0.76 * s}L${0.62 * s},0L0,${0.76 * s}L${-0.62 * s},0Z`;
    case 'left': return `M${-0.55 * s},0L${0.5 * s},${-0.76 * s}L${0.5 * s},${0.76 * s}Z`;
  }
}

function flatten(cols) {
  return cols.flatMap(c => c[1].map(v => ({ x: c[0], y: v })));
}

function halfSteps(lo, hi, step) {
  // minor tick positions halfway between the majors
  const out = [];
  for (let v = Math.ceil((lo - step / 2) / step - 1e-6) * step + step / 2; v <= hi + 1e-6; v += step) {
    if (v >= lo - 1e-6) out.push(+v.toFixed(4));
  }
  return out;
}

function condensedText(g, x, y, str, size, opt = {}) {
  const t = g.append('text')
    .attr('transform', `translate(${x},${y}) ${opt.rotate ? 'rotate(-90) scale(1,' + SX + ')' : 'scale(' + (opt.sx || SX) + ',1)'}`)
    .attr('font-size', size)
    .attr('text-anchor', opt.anchor || 'start')
    .attr('dy', opt.dy || '0.35em')
    .text(str);
  if (opt.bold) t.attr('font-weight', 'bold');
  return t;
}

panels.forEach(p => {
  const g = svg.append('g').attr('class', 'panel ' + p.model);
  const x = d3.scaleLinear().domain([3.8, 4.35]).range(p.xr);
  const y = d3.scaleLinear().domain(p.yd).range(p.yr);
  const yBase = p.yr[0], xBase = p.xr[0];

  // minor ticks
  g.append('g').attr('transform', `translate(0,${yBase})`)
    .call(d3.axisBottom(x).tickValues(halfSteps(3.8, 4.35, 0.1)).tickSize(13).tickSizeOuter(0).tickFormat(''))
    .call(a => a.select('.domain').remove());
  g.append('g').attr('transform', `translate(${xBase},0)`)
    .call(d3.axisLeft(y).tickValues(halfSteps(p.yd[0], p.yd[1], p.yStep)).tickSize(12).tickSizeOuter(0).tickFormat(''))
    .call(a => a.select('.domain').remove());

  // major axes
  const xa = g.append('g').attr('transform', `translate(0,${yBase})`)
    .call(d3.axisBottom(x).tickValues(xTickValues).tickFormat(d3.format('.1f')).tickSize(27).tickPadding(24).tickSizeOuter(0));
  const ya = g.append('g').attr('transform', `translate(${xBase},0)`)
    .call(d3.axisLeft(y).tickValues(p.yTicks).tickFormat(d3.format(p.yFmt)).tickSize(24).tickPadding(22).tickSizeOuter(0));

  [xa, ya].forEach(a => {
    a.select('.domain').attr('stroke', '#000').attr('stroke-width', 4);
    a.selectAll('text').attr('font-size', p.tickFont).attr('fill', '#000')
      .attr('font-family', '"Liberation Sans", Arial, sans-serif');
  });
  xa.selectAll('text').attr('transform', `scale(${SX},1)`);
  ya.selectAll('text').attr('x', -(24 + 22) / SX).attr('transform', `scale(${SX},1)`);
  g.selectAll('.tick line').attr('stroke', '#000').attr('stroke-width', 4);

  // points: C1 first, C6 on top
  p.series.forEach((cols, i) => {
    g.append('g').selectAll('path').data(flatten(cols)).join('path')
      .attr('transform', d => `translate(${x(d.x)},${y(d.y)})`)
      .attr('d', markerPath(seriesShapes[i], 28 * p.mk))
      .attr('fill', seriesColors[i]);
  });

  // legend
  const L = p.legend;
  g.append('rect').attr('x', L.x).attr('y', L.y).attr('width', L.w).attr('height', L.h)
    .attr('fill', '#fff').attr('stroke', '#222').attr('stroke-width', 2.5);
  seriesTags.forEach((tag, i) => {
    const cy = L.y0 + i * L.step;
    g.append('path').attr('transform', `translate(${L.mx},${cy})`)
      .attr('d', markerPath(seriesShapes[i], 28 * Math.min(p.mk, 1))).attr('fill', seriesColors[i]);
    condensedText(g, L.tx, cy, `${p.model} ${tag}`, L.font);
  });

  // error metrics block
  const M = p.met;
  condensedText(g, M.x, M.y0, 'Error Metrics', M.font, { bold: true, sx: 1 });
  p.metrics.forEach((s, i) => condensedText(g, M.x, M.y0 + (i + 1) * M.step, s, M.font, { sx: 1 }));

  // axis titles
  condensedText(g, p.xTitle.x, p.xTitle.y, 'Bitumen content (%)', p.xTitle.font, { anchor: 'middle' });
  condensedText(g, p.yTitle.x, p.yTitle.y, 'Predicted Value (%)', p.yTitle.font, { anchor: 'middle', rotate: true });
});
</script>
</body>
</html>
